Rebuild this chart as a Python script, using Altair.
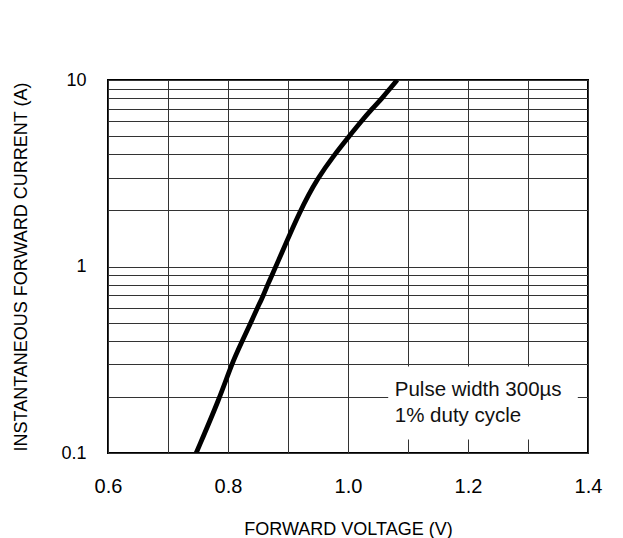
import altair as alt
import pandas as pd

# Curve (instantaneous forward current A, forward voltage V)
current = [0.1, 0.2, 0.3, 0.4, 0.5, 0.6, 0.7, 0.8, 1.0, 2.0, 3.0, 4.0,
           5.0, 6.0, 7.0, 8.0, 9.0, 10.0]
voltage = [0.747, 0.787, 0.806, 0.824, 0.838, 0.849, 0.859, 0.866, 0.88,
           0.92, 0.95, 0.978, 1.002, 1.022, 1.040, 1.057, 1.070, 1.082]

x_grid = [0.6, 0.7, 0.8, 0.9, 1.0, 1.1, 1.2, 1.3, 1.4]
y_grid = [0.1, 0.2, 0.3, 0.4, 0.5, 0.6, 0.7, 0.8, 0.9,
          1, 2, 3, 4, 5, 6, 7, 8, 9, 10]

note_lines = ["Pulse width 300µs", "1% duty cycle"]
note_pos = {"V": 1.078, "I": 0.201}
note_box = {"V1": 1.067, "V2": 1.383, "I1": 0.118, "I2": 0.291}

FONT = "Liberation Sans"

curve_df = pd.DataFrame({"V": voltage, "I": current})
note_df = pd.DataFrame([{"V": note_pos["V"], "I": note_pos["I"], "t": note_lines}])
box_df = pd.DataFrame([note_box])

x_scale = alt.Scale(domain=[0.6, 1.4], nice=False, zero=False)
y_scale = alt.Scale(type="log", domain=[0.1, 10], nice=False)

x_axis = alt.Axis(
    values=x_grid,
    format=".1f",
    labelExpr="round(datum.value*10) % 2 == 0 ? datum.label : ''",
    title="FORWARD VOLTAGE (V)",
    titleY=67,
    titleBaseline="top",
    labelPadding=23,
    labelFontSize=20,
    labelFlush=False,
)
y_axis = alt.Axis(
    values=y_grid,
    labelExpr="datum.value == 0.1 ? '0.1' : (datum.value == 1 ? '1' : (datum.value == 10 ? '10' : ''))",
    title="INSTANTANEOUS FORWARD CURRENT (A)",
    titleX=-87,
    titleBaseline="middle",
    labelPadding=22,
    labelFontSize=18,
    labelFlush=False,
)

base = alt.Chart(curve_df)

curve = base.mark_line(
    color="black", strokeWidth=4.8, interpolate="basis", clip=True
).encode(
    x=alt.X("V:Q", scale=x_scale, axis=x_axis),
    y=alt.Y("I:Q", scale=y_scale, axis=y_axis),
    order="I:Q",
)

box = alt.Chart(box_df).mark_rect(fill="white").encode(
    x=alt.X("V1:Q", scale=x_scale),
    x2="V2:Q",
    y=alt.Y("I1:Q", scale=y_scale),
    y2="I2:Q",
)

note = alt.Chart(note_df).mark_text(
    align="left", baseline="alphabetic", font=FONT, fontSize=20.5,
    lineHeight=26, color="#111"
).encode(
    x=alt.X("V:Q", scale=x_scale),
    y=alt.Y("I:Q", scale=y_scale),
    text="t",
)

chart = alt.layer(box, curve, note).properties(
    width=480,
    height=373,
    autosize=alt.AutoSizeParams(type="none"),
    padding={"left": 100, "top": 72, "right": 27, "bottom": 88},
    background="white",
).configure_view(
    stroke="black", strokeWidth=2
).configure_axis(
    grid=True,
    gridColor="#333",
    gridWidth=1,
    gridOpacity=1,
    ticks=False,
    domain=False,
    labelFont=FONT,
    labelColor="black",
    titleFont=FONT,
    titleFontSize=18,
    titleFontWeight="normal",
    titleColor="black",
    labelOverlap=False,
)

chart.save("out.html", embed_options={"renderer": "svg", "actions": False})
